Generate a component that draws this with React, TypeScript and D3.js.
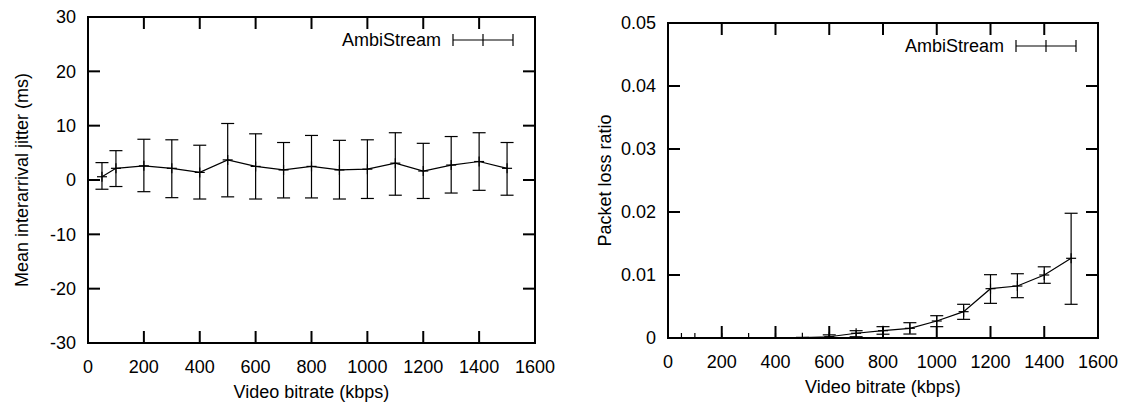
import React from "react";
import * as d3 from "d3";

const bitrates = [50, 100, 200, 300, 400, 500, 600, 700, 800, 900, 1000, 1100, 1200, 1300, 1400, 1500];

const jitterMean = [0.6, 2.15, 2.6, 2.15, 1.4, 3.7, 2.5, 1.85, 2.5, 1.85, 2.0, 3.1, 1.65, 2.75, 3.4, 2.15];
const jitterLow = [-1.7, -1.2, -2.15, -3.25, -3.5, -3.1, -3.5, -3.3, -3.3, -3.5, -3.4, -2.8, -3.4, -2.4, -1.9, -2.8];
const jitterHigh = [3.2, 5.4, 7.5, 7.4, 6.4, 10.4, 8.5, 6.9, 8.2, 7.3, 7.4, 8.7, 6.75, 8.0, 8.7, 6.9];

const lossMean = [0, 0, 0, 0, 0, 0.00005, 0.0002, 0.00075, 0.00116, 0.00154, 0.0027, 0.00418, 0.00783, 0.00825, 0.01, 0.01265];
const lossLow = [0, 0, 0, 0, 0, 0, 0, 0.0002, 0.0006, 0.00063, 0.0018, 0.00296, 0.0055, 0.0064, 0.00868, 0.00535];
const lossHigh = [0, 0, 0, 0, 0, 0.0001, 0.0005, 0.00116, 0.0018, 0.00243, 0.00354, 0.00535, 0.01005, 0.0102, 0.0113, 0.0198];

const xTicks = [0, 200, 400, 600, 800, 1000, 1200, 1400, 1600];
const jitterTicks = [-30, -20, -10, 0, 10, 20, 30];
const lossTicks = [0, 0.01, 0.02, 0.03, 0.04, 0.05];

const seriesName = "AmbiStream";
const xTitle = "Video bitrate (kbps)";
const jitterTitle = "Mean interarrival jitter (ms)";
const lossTitle = "Packet loss ratio";

const FONT = "'Liberation Sans', Arial, Helvetica, sans-serif";
const FS = 18;

type PanelProps = {
  left: number; right: number; top: number; bottom: number;
  yDomain: [number, number];
  yTicks: number[];
  yFmt: (v: number) => string;
  mean: number[]; low: number[]; high: number[];
  yTitle: string; yTitleX: number;
  clipId: string;
};

function Panel(p: PanelProps) {
  const x = d3.scaleLinear().domain([0, 1600]).range([p.left, p.right]);
  const y = d3.scaleLinear().domain(p.yDomain).range([p.bottom, p.top]);
  const T = 12;
  const cap = 6.5;
  const pt = 5;
  const pts = bitrates.map((b, i) => ({ b, m: p.mean[i], lo: p.low[i], hi: p.high[i] }));
  const line = d3.line<{ b: number; m: number }>().x(d => x(d.b)).y(d => y(d.m));
  const cy = (p.top + p.bottom) / 2;
  const legY = p.top + 23;
  const legC = p.right - 52;
  return (
    <g>
      <defs>
        <clipPath id={p.clipId}>
          <rect x={p.left} y={p.top} width={p.right - p.left} height={p.bottom - p.top} />
        </clipPath>
      </defs>
      {/* ticks */}
      {xTicks.map(t => (
        <g key={"xt" + t}>
          <line x1={x(t)} x2={x(t)} y1={p.bottom} y2={p.bottom - T} stroke="#000" strokeWidth={2} />
          <line x1={x(t)} x2={x(t)} y1={p.top} y2={p.top + T} stroke="#000" strokeWidth={2} />
          <text x={x(t)} y={p.bottom + 30} textAnchor="middle" fontSize={FS} fontFamily={FONT}>{t}</text>
        </g>
      ))}
      {p.yTicks.map(t => (
        <g key={"yt" + t}>
          <line x1={p.left} x2={p.left + T} y1={y(t)} y2={y(t)} stroke="#000" strokeWidth={2} />
          <line x1={p.right} x2={p.right - T} y1={y(t)} y2={y(t)} stroke="#000" strokeWidth={2} />
          <text x={p.left - 12} y={y(t)} dy="0.35em" textAnchor="end" fontSize={FS} fontFamily={FONT}>{p.yFmt(t)}</text>
        </g>
      ))}
      {/* data */}
      <g clipPath={`url(#${p.clipId})`} stroke="#000" strokeWidth={1.2} fill="none">
        <path d={line(pts) || ""} />
        {pts.map(d => (
          <g key={"e" + d.b}>
            <line x1={x(d.b)} x2={x(d.b)} y1={y(d.lo)} y2={y(d.hi)} />
            <line x1={x(d.b) - cap} x2={x(d.b) + cap} y1={y(d.lo)} y2={y(d.lo)} />
            <line x1={x(d.b) - cap} x2={x(d.b) + cap} y1={y(d.hi)} y2={y(d.hi)} />
            <line x1={x(d.b) - pt} x2={x(d.b) + pt} y1={y(d.m)} y2={y(d.m)} />
            <line x1={x(d.b)} x2={x(d.b)} y1={y(d.m) - pt} y2={y(d.m) + pt} />
          </g>
        ))}
      </g>
      {/* frame */}
      <rect x={p.left} y={p.top} width={p.right - p.left} height={p.bottom - p.top} fill="none" stroke="#000" strokeWidth={2} />
      {/* legend */}
      <text x={legC - 42} y={legY} dy="0.35em" textAnchor="end" fontSize={FS} fontFamily={FONT}>{seriesName}</text>
      <g stroke="#000" strokeWidth={1.2}>
        <line x1={legC - 30} x2={legC + 30} y1={legY} y2={legY} />
        <line x1={legC - 30} x2={legC - 30} y1={legY - 6} y2={legY + 6} />
        <line x1={legC + 30} x2={legC + 30} y1={legY - 6} y2={legY + 6} />
        <line x1={legC} x2={legC} y1={legY - 6} y2={legY + 6} />
      </g>
      {/* titles */}
      <text x={(p.left + p.right) / 2} y={p.bottom + 55} textAnchor="middle" fontSize={FS} fontFamily={FONT}>{xTitle}</text>
      <text transform={`translate(${p.yTitleX},${cy}) rotate(-90)`} dy="0.35em" textAnchor="middle" fontSize={FS} fontFamily={FONT}>{p.yTitle}</text>
    </g>
  );
}

export default function App() {
  return (
    <svg width={1126} height={405} style={{ position: "absolute", left: 0, top: 0, background: "#fff" }}>
      <rect width={1126} height={405} fill="#fff" />
      <Panel left={88} right={535} top={17} bottom={343}
        yDomain={[-30, 30]} yTicks={jitterTicks} yFmt={v => String(v)}
        mean={jitterMean} low={jitterLow} high={jitterHigh}
        yTitle={jitterTitle} yTitleX={22} clipId="c1" />
      <Panel left={668} right={1098} top={23} bottom={338}
        yDomain={[0, 0.05]} yTicks={lossTicks} yFmt={v => (v === 0 ? "0" : d3.format(".2f")(v))}
        mean={lossMean} low={lossLow} high={lossHigh}
        yTitle={lossTitle} yTitleX={605} clipId="c2" />
    </svg>
  );
}
